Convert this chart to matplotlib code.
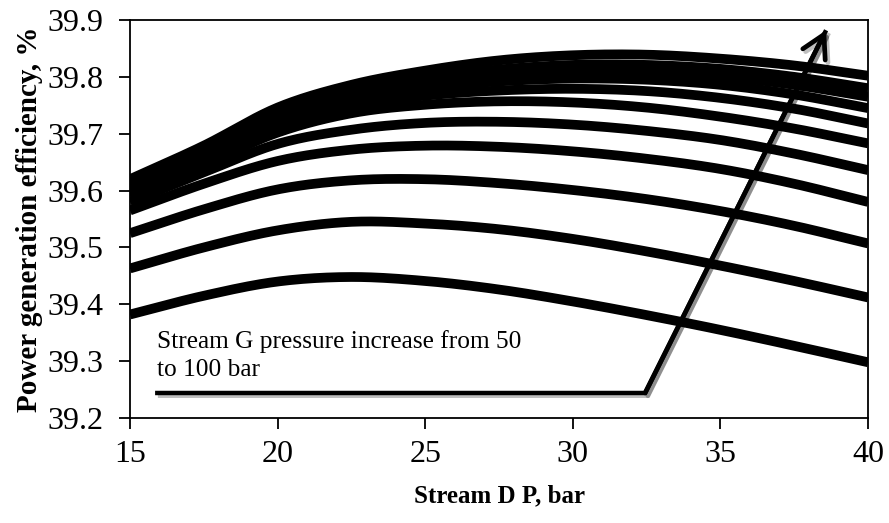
import numpy as np
import matplotlib
matplotlib.use("Agg")
import matplotlib.pyplot as plt
import matplotlib.patheffects as pe

# ---- data -------------------------------------------------------------
stream_d_p = [15, 17.5, 20, 22.5, 25, 27.5, 30, 32.5, 35, 37.5, 40]

eff_50 = [39.382, 39.415, 39.440, 39.448, 39.441, 39.426, 39.405, 39.381, 39.355, 39.327, 39.298]
eff_55 = [39.463, 39.500, 39.530, 39.545, 39.542, 39.532, 39.515, 39.493, 39.468, 39.441, 39.412]
eff_60 = [39.525, 39.567, 39.602, 39.618, 39.620, 39.613, 39.601, 39.585, 39.564, 39.538, 39.507]
eff_65 = [39.565, 39.612, 39.652, 39.672, 39.679, 39.677, 39.669, 39.656, 39.638, 39.612, 39.580]
eff_70 = [39.580, 39.632, 39.682, 39.707, 39.719, 39.721, 39.716, 39.705, 39.689, 39.665, 39.636]
eff_75 = [39.590, 39.645, 39.702, 39.736, 39.751, 39.757, 39.755, 39.746, 39.730, 39.709, 39.683]
eff_80 = [39.600, 39.655, 39.716, 39.750, 39.767, 39.776, 39.779, 39.775, 39.763, 39.744, 39.718]
eff_85 = [39.605, 39.661, 39.726, 39.761, 39.781, 39.792, 39.797, 39.795, 39.786, 39.769, 39.745]
eff_90 = [39.610, 39.666, 39.732, 39.769, 39.791, 39.804, 39.810, 39.810, 39.801, 39.786, 39.765]
eff_95 = [39.615, 39.671, 39.738, 39.776, 39.799, 39.813, 39.821, 39.821, 39.814, 39.800, 39.780]
eff_100 = [39.620, 39.679, 39.746, 39.786, 39.811, 39.829, 39.838, 39.839, 39.832, 39.820, 39.802]

series = [eff_50, eff_55, eff_60, eff_65, eff_70, eff_75, eff_80, eff_85, eff_90, eff_95, eff_100]

x_ticks = [15, 20, 25, 30, 35, 40]
y_ticks = [39.2, 39.3, 39.4, 39.5, 39.6, 39.7, 39.8, 39.9]

annotation_text = "Stream G pressure increase from 50\nto 100 bar"
arrow_path_x = [15.85, 32.45, 38.58]
arrow_path_y = [39.244, 39.244, 39.882]


def smooth(x, y, n=30):
    """Catmull-Rom rendering of a polyline (like a smoothed spreadsheet line)."""
    x = np.asarray(x, float)
    y = np.asarray(y, float)
    px = np.concatenate([[2 * x[0] - x[1]], x, [2 * x[-1] - x[-2]]])
    py = np.concatenate([[2 * y[0] - y[1]], y, [2 * y[-1] - y[-2]]])
    xs, ys = [], []
    t = np.linspace(0, 1, n, endpoint=False)
    for i in range(1, len(px) - 2):
        p0, p1, p2, p3 = (np.array([px[j], py[j]]) for j in (i - 1, i, i + 1, i + 2))
        m1 = (p2 - p0) / 2.0
        m2 = (p3 - p1) / 2.0
        h00 = 2 * t**3 - 3 * t**2 + 1
        h10 = t**3 - 2 * t**2 + t
        h01 = -2 * t**3 + 3 * t**2
        h11 = t**3 - t**2
        pts = (np.outer(h00, p1) + np.outer(h10, m1) + np.outer(h01, p2) + np.outer(h11, m2))
        xs.append(pts[:, 0])
        ys.append(pts[:, 1])
    xs.append([x[-1]])
    ys.append([y[-1]])
    return np.concatenate(xs), np.concatenate(ys)


plt.rcParams["font.family"] = ["Liberation Serif", "DejaVu Serif"]

fig = plt.figure(figsize=(8.89, 5.23), dpi=100)
ax = fig.add_axes([130 / 889, 1 - 418 / 523, (868 - 130) / 889, (418 - 20) / 523])

for s in series:
    sx, sy = smooth(stream_d_p, s)
    ax.plot(sx, sy, color="black", lw=7.0, solid_capstyle="butt", solid_joinstyle="round")

ax.set_xlim(15, 40)
ax.set_ylim(39.2, 39.9)
ax.set_xticks(x_ticks)
ax.set_yticks(y_ticks)
ax.set_yticklabels([f"{v:.1f}" for v in y_ticks])
ax.tick_params(axis="both", direction="out", length=8, width=1.3, labelsize=23, color="black")
ax.tick_params(axis="x", pad=8)
ax.tick_params(axis="y", pad=11)

for sp in ax.spines.values():
    sp.set_linewidth(1.3)
    sp.set_color("black")

ax.set_xlabel("Stream D P, bar", fontsize=18, fontweight="bold", labelpad=11)
ax.set_ylabel("Power generation efficiency, %", fontsize=21, fontweight="bold", labelpad=3)

ax.text(15.9, 39.31, annotation_text, fontsize=18.3, ha="left", va="center", linespacing=1.32)

shadow = [pe.SimpleLineShadow(offset=(2, -2), shadow_color="black", alpha=0.25), pe.Normal()]
ax.plot(arrow_path_x, arrow_path_y, color="black", lw=3.2, solid_capstyle="butt",
        solid_joinstyle="miter", path_effects=shadow, clip_on=False)
ax.annotate("", xy=(arrow_path_x[-1], arrow_path_y[-1]),
            xytext=(arrow_path_x[-2], arrow_path_y[-2]),
            arrowprops=dict(arrowstyle="->,head_length=1.6,head_width=0.9", color="black", lw=3.4,
                            shrinkA=0, shrinkB=0, path_effects=shadow))

fig.savefig("out.png", dpi=100)
